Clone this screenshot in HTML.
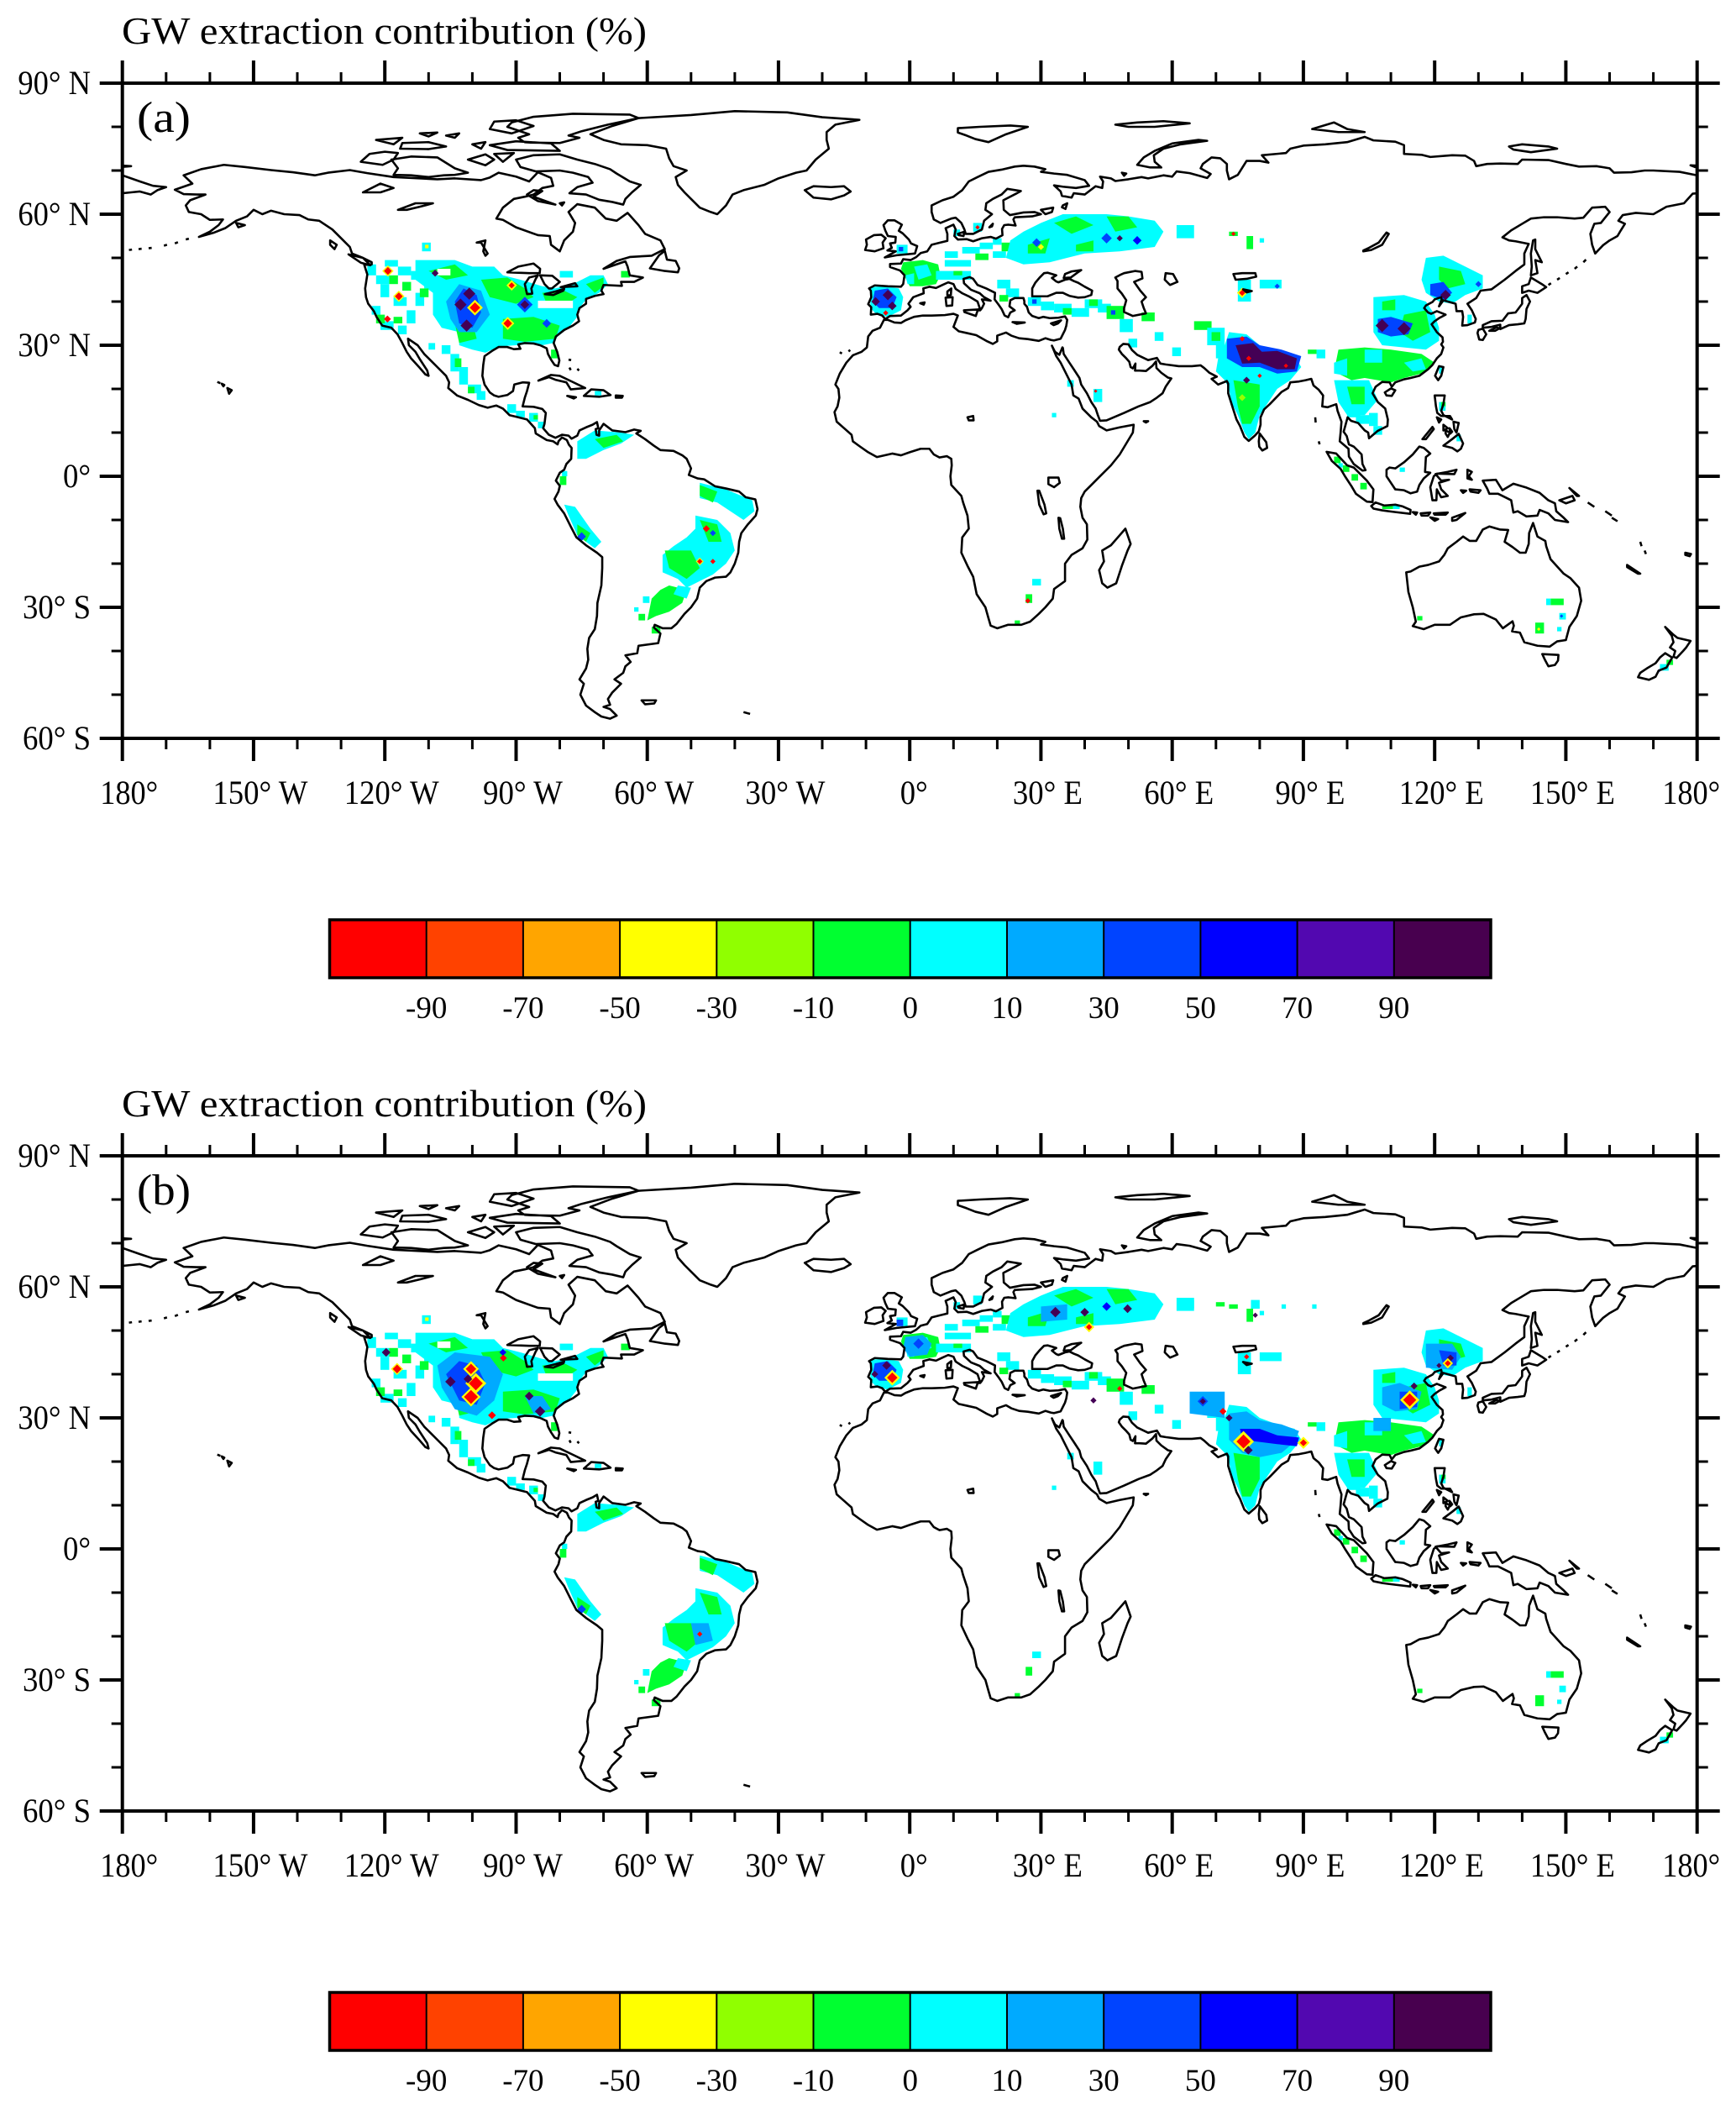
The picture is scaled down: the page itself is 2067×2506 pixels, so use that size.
<!DOCTYPE html>
<html><head><meta charset="utf-8"><style>html,body{margin:0;padding:0;background:#fff}svg{display:block}text{font-family:"Liberation Serif",serif;fill:#000}</style></head>
<body>
<svg width="2067" height="2506" viewBox="0 0 2067 2506" xmlns="http://www.w3.org/2000/svg">
<defs>
<clipPath id="clipA"><rect x="145.7" y="99" width="1875" height="780"/></clipPath>

<path id="coast" fill="none" stroke="#000" stroke-width="0.5" stroke-linejoin="round" d="
M-168,65.6 -164,67 -166,68.9 -162,70.3 -156.8,71.3 -152,70.8 -146,70.1 -141,69.6 -136,68.9 -133,69.5 -128,70.1 -124,69.4 -118,68.5 -114,68.3 -108,68 -104,68.2 -98,67.8 -96,68.4 -94,69.5 -90,68.6 -87,67.5 -85,69.6 -82,68.3 -81.5,66.5 -84,66 -86,64.5 -88,64 -90.5,63.5 -93,61.5 -94.5,59 -93,58.7 -90,57 -85,55.2 -82.3,55 -82,53 -80,51.5 -79,54 -77,56 -76.5,58 -78,60.5 -76,62.3 -72,61.5 -69.5,59 -67,58.5 -64.5,60.3 -62,57.5 -60.5,55.5 -57,54 -56,52 -59,50.5 -64,50.2 -67,49.3 -70,47.5 -65,49.2 -64.5,48 -64,46 -61,45.5 -63,44.5 -66,44.5 -65.8,43.6 -70,43.8 -70.5,42.5 -70,41.7 -72,41.3 -74,40.6 -74,39.5 -75.5,38.5 -76,37 -75.6,35.5 -77,34.5 -79,33.5 -80.9,32 -81.4,30.5 -80.6,28.5 -80.1,26.5 -80.4,25.2 -81.2,25.5 -82,26.7 -82.7,28 -83,29.3 -84.5,30 -86,30.4 -88,30.5 -89.5,30.2 -89,29.2 -90.5,29.1 -92,29.6 -94,29.6 -95.5,28.7 -97.2,27.5 -97.5,25.5 -97.7,23 -97.2,21 -96,19.2 -95,18.5 -94,18.2 -92,18.6 -90.7,19.5 -90.4,21 -88.5,21.5 -87,21.4 -87.5,19.5 -88,18 -88.5,16 -86,15.9 -84,15.4 -83.2,14.5 -83.5,12 -83.8,11 -82.5,9.5 -81,8.8 -79.5,9.5 -78,9.3 -77.3,8.6 -76,9.3 -75.5,10.5 -74,11.2 -72.5,11.8 -71.5,12.4 -71.2,11 -71.8,10.8 -71.6,9.5 -71,9.3 -71,10.5 -70,12 -68,10.5 -65,10.1 -63,10.7 -61.5,10.4 -62.5,9.8 -60.5,8.5 -58.5,7 -57,6 -54,5.8 -52,4.8 -51,4 -50,1.8 -50.5,0.3 -48.5,-0.5 -47,-0.7 -44.5,-2.3 -42,-2.8 -39,-3.5 -37.5,-4.8 -35.3,-5.3 -34.8,-7.5 -35.2,-9 -37,-11 -38.5,-13 -39,-15 -39.2,-17.5 -40,-20 -41,-22 -42,-23 -44.5,-23.2 -46.5,-24 -48,-25.5 -48.6,-28 -50,-30 -51.5,-31.5 -53.3,-33.8 -54.5,-34.8 -56.5,-34.8 -58.3,-34 -58.5,-34.6 -57,-36 -57.5,-38.2 -62,-38.8 -62.3,-40.5 -65,-41 -63.8,-42.5 -65,-43.5 -65.5,-45 -67.5,-46.5 -66,-47.5 -68,-49.5 -69,-51 -68.5,-52.3 -70,-52.8 -68.5,-53.3 -67,-54.8 -68.5,-55.5 -70.5,-55 -72,-54 -74,-52.5 -75.3,-50 -74.5,-47.5 -75.5,-46.5 -74,-44 -73.5,-42 -73.7,-39.5 -73.3,-37 -72,-35 -71.5,-32 -71.4,-29 -70.5,-25 -70.3,-21 -70.3,-18.5 -71.5,-17.5 -74,-15.8 -76.2,-14 -77.5,-11.5 -79,-8.5 -80.5,-6.5 -81.2,-5.2 -80.3,-3.5 -80,-2.2 -80.9,-1 -80,0.8 -79,1.5 -78.5,2.8 -77.4,4 -77.3,6.5 -77.9,7.2 -78.4,8.3 -79.5,8.9 -80.3,8 -80.5,7.3 -81.5,8 -83,8.3 -85.5,9.8 -85.7,11 -87.5,13 -89.5,13.5 -91.5,14 -93,15.5 -94.5,16.2 -96.5,15.7 -98.5,16.3 -101,17.5 -103.5,18.5 -105.5,20.2 -105.3,21.5 -106,23 -108,25 -109.5,26.5 -111,28 -112.5,30 -114.7,31.5 -114.5,30 -113,28.5 -112,26.8 -110.3,24.2 -110,23 -110.7,23.3 -112,24.8 -114,27 -115,28.5 -116,30.5 -117.1,32.5 -118.5,34 -120.6,34.5 -121.9,36.5 -122.5,37.8 -123.8,39.5 -124.3,41 -124.5,43 -124,46.2 -124.7,48.4 -123,48.5 -123,49 -125,50 -127.5,51 -128,52.5 -130,54.5 -132,56.5 -135,58.5 -137.5,58.8 -139.5,59.8 -143,60 -146,60.8 -148,60 -150,61 -151.5,59.5 -154,58.5 -156.5,56.8 -159,55.8 -162.5,54.8 -160,56 -158,57.5 -157,58.8 -160,58.7 -162,60 -164.8,60.5 -165.5,62 -164.5,63.2 -161,64.5 -163,64.5 -166,64.6 Z
M-73,78.3 -68,80.2 -62,82 -50,82.7 -40,83.6 -28,83.3 -20,82.2 -11.5,81.6 -17,80.5 -19,78.8 -19,77 -18.5,75 -21.5,72.5 -23.6,70 -26,69.5 -30,68.2 -33.3,66.7 -38,65.5 -40.5,64.5 -42,62 -44,60 -45.5,60.5 -48,61.5 -50,63.5 -51.5,65 -53,66.7 -53.5,68.5 -51,70 -54,71 -55,72.8 -55.7,75 -60,75.8 -66,76 -70,77 Z
M-61.5,66.7 -63.5,65 -65,63.5 -65.5,62.2 -68,62.8 -71,63.3 -74,64.5 -77.8,64.8 -76,66.2 -72.5,67.2 -73.5,68.5 -77,69.5 -80,70 -85.5,69.8 -89,70.8 -90,72.5 -86,73.5 -80,73.7 -76,72.5 -72,71.5 -68.5,70.3 -67,69.3 -64,67.5 Z
M-118,69 -117,70.5 -118.5,72.5 -114,73.2 -108,73 -104,70.5 -101,69.5 -104,69 -106.5,68.9 -110,68.5 -114,68.9 Z
M-125.5,72 -123.5,73.8 -120,74.3 -117,74 -118,72.5 -120.5,71.3 Z
M-91,81 -86,82.3 -77,83 -64,82.8 -62,82 -69,80.5 -75,79 -78,78 -75.5,77.5 -80,76.3 -88,76.4 -89.5,77.5 -87,78.3 -92,80 Z
M-95,81.2 -90,81.5 -86,80.2 -91,78.5 -96,79.5 Z
M-80,74.5 -92,74.7 -96,75.8 -90,76.7 -82,76.2 Z
M-116,76.3 -110,76.5 -106,75.5 -110,74.9 -116.5,75 Z
M-101,72.5 -97,73.7 -95,72.5 -97,71.2 Z
M-95,73.8 -90.5,74 -93,72 Z
M-100,76 -97,76.5 -98,75 Z
M-122,77 -116,77.5 -118,76 Z
M-106,78 -103,78.5 -104,77.5 Z
M-112,78.5 -108,78.7 -110,77.8 Z
M-86,64 -81,62.2 -85,63 -87.5,64.5 -86,65.5 -84,65.3 Z
M-80,62.5 -79,62.7 -79.5,62 Z
M-59.4,47.6 -56,47 -53,46.7 -52.7,47.6 -53.5,49.3 -55.5,49.6 -56,51.6 -57.3,50.6 Z
M-128.3,50.8 -125,50 -123.3,48.3 -125.5,48.9 Z
M-132.5,54 -131,53 -131.5,52 -132.5,53 Z
M-154,58 -152,57.5 -153.5,57 Z
M-84.9,21.9 -82,23.2 -80,23 -77.5,21.8 -74.2,20.2 -77.5,19.9 -78.5,21.5 -81,22.1 -82.5,22.7 Z
M-74.5,18.4 -72.8,19.9 -70,19.7 -68.4,18.6 -71,18.2 Z
M-78.3,18.4 -76.3,18.1 -76.8,17.8 Z
M-67.2,18.5 -65.6,18.4 -65.8,18 -67.2,18 Z
M-156,20.2 -155,19.7 -155.6,18.9 Z M-157.3,21.2 -156.7,20.9 -156.9,20.6 Z M-158.3,21.6 -157.6,21.3
M-178.5,51.8 -177.8,51.9 M-176.3,52 -175.6,52.1 M-174,52.2 -173.3,52.3 M-170.5,52.8 -169.8,53 M-168,53.3 -167.3,53.6 M-165.5,54.2 -164.8,54.4
M-78,26.7 -77.4,26.6 M-77.8,24.9 -77.5,24.3 M-76,24.6 -75.6,24.2
M-92,46.7 -89.5,48 -86,48.7 -84.5,47.5 -84.6,46.5 -87,46.5 Z
M-87.5,41.7 -88,44 -87,45.5 -85,46 -85.5,45.2 -86.5,43 -86.3,41.8 Z
M-84.5,46 -81.7,45.9 -80,44.5 -81.8,43 -82.5,43 -83.5,44 Z
M-83.4,41.7 -81,42.3 -79,42.9 -79.2,42.5 -81.5,41.5 Z
M-79.8,43.3 -76.5,44.2 -76,43.5 -78,43.4 Z
M-99,53.5 -97,54 -97.5,51.5 -97,50.5 -96.5,51 -98,53.5 Z
M-117,61 -113,62.5 -109,62.5 -112,61.7 -115,61 Z
M-125,65 -121,67 -118,66 -121,65 Z
M-24,65.5 -22,66.4 -18,66.2 -15,66.4 -13.5,65.2 -15,64.3 -18,63.4 -22,63.8 Z
M-61.3,-51.3 -58,-51.3 -58.4,-52 -60.5,-52.2 Z M-38,-54 -36.5,-54.4
M-5.9,35.8 -6.8,34 -8.5,33.3 -9.5,32 -9.8,29.5 -11,28.5 -13,27.7 -14.5,26 -16,23.5 -17,21 -16.3,20 -16.1,18 -16.5,16 -17.2,14.7 -16.7,12.5 -15,11 -13.3,9.5 -13,8 -11.5,6.9 -9.5,5.5 -7.5,4.4 -4,5.2 -2,4.8 0,5.5 2.5,6.3 4.5,6.3 5.5,5 6.8,4.3 8.5,4.6 9.5,4 9.6,2.5 9.3,0 9.5,-2 11.8,-4.5 12.2,-6 13.2,-9 13.5,-12 12,-14 11.8,-17.5 13.2,-20.5 14.5,-23 15.3,-27 17.3,-30 18,-32.5 18.5,-34.2 20,-34.8 22.5,-34 25.5,-34 27.5,-33.3 29.5,-31.5 31,-30 32.7,-28 33,-25.8 35.5,-24 35.5,-22.5 35.5,-20 37,-18 39.5,-16.5 40.6,-14.5 40.5,-11 39.5,-9.5 39,-7 39.2,-5 40,-3.5 41.5,-2 43,-0.5 46,2.5 48,5 49.5,7.5 51,10 51.2,11.8 48,11.2 45,10.5 43.3,11.5 42.8,12.5 41.5,13.5 39.5,15.5 38.6,17.8 37.4,18.5 37,21 35.5,24 34.5,26 33.5,27.5 32.5,29.9 33.2,28.5 34.2,27.8 34.9,29.5 35,29.4 35.2,28 36.5,26 37.5,24.5 38.8,22.5 39.2,21 40.5,19 41.5,17 42.5,15.5 43,14 43.5,12.7 45,12.8 49,14.5 52.3,16 55,17 56.5,18 57.8,19 58.5,20.5 59.8,22.4 59,22.6 57.5,23.7 56.4,24.8 56.3,26.3 55.5,25.3 54,24.1 52.5,24.2 51.5,24.2 51.6,25.8 51,24.7 50.5,25 50.2,26.2 49.5,27 48.5,28 47.8,29 48,29.6 48.8,30.3 50,30.2 50.8,28.9 52,27.8 54.5,26.6 56.5,27.1 57.3,25.8 58.5,25.6 61.5,25.2 64.5,25.2 66.5,25.4 67.3,24.8 68.5,23.7 70.2,22.8 69,22.3 70.5,21 72.5,21.8 72.8,21.2 72.8,19 73.9,15.5 74.7,13 75.5,11.5 76.5,9 77.5,8.1 78.9,9.3 79.8,10.3 80.2,11.8 80.2,13.5 81,15.3 82.3,16.5 85,19.3 86.5,20.2 87,21.5 89,21.7 90.5,22 91.8,22.3 92.3,20.8 93.5,19.8 94.5,18.5 94.3,16 95.5,15.8 97.5,16.5 97.8,15 98.7,12.5 98.5,10 98.3,8 100.3,6.3 100.4,4.5 101.5,2.8 103.5,1.3 104.2,1.4 103.5,2.8 103.3,5 101.5,6.8 100.4,7.3 99.9,9.2 99.2,10.2 100.1,13.5 100.9,12.7 102.5,12.2 104,10.5 104.8,10 105,8.7 107,10.4 109.2,11.5 109.3,13 108.7,15.5 107,17 105.8,19 106.5,20.5 108,21.6 109.7,21.5 110.2,20.5 111,21.5 113,22.2 114.5,22.5 116.5,23 118.5,24.5 119.5,25.5 120.5,27 121.5,28 122,29.5 121.5,30.2 121.9,30.8 121.8,31.8 120.5,33 119.3,34.8 120,35.5 121,36.2 122.5,37 120.5,37.8 119.2,37.2 118.5,37.5 117.6,38.5 118,39.1 119.5,39.9 120,40.5 121.5,41 121.6,40.5 121,38.9 122,40.3 124.8,39.5 125,37.8 126.3,37.8 126.5,36.5 126.3,34.5 127.5,34.6 129.2,35.2 129.4,36 128.5,38 127.5,39.5 129.5,40.8 130.5,42.5 133,42.8 136,45 138.5,47 140.5,48.5 140.5,51 141.5,53.2 138.5,53.8 137,54 135.5,54.7 137.5,56.3 140,57.8 142,59 145,59.3 148,59.3 152,59 154,59.2 156,61.5 159,61.7 160,60.5 158,58 156.5,57.8 155.6,55.5 156,53 156.7,51 158.5,52.9 160,54 161.8,55 162.5,56.2 163.5,57.8 162,58.5 163,59.8 166,60.3 170,60 173,61.7 177,62.5 179,64.7 182,65 184,65.2 186.5,64.5 188,65.5 190,66.2 187,66.5 184,67.5 180,68.9 176,69.7 170,70 168,70 165,69.6 161,69.5 160,70.5 157,71 153,70.9 150,71.5 146,72.4 140,72.5 139,71.5 135,71.6 132,71.5 129.5,71 129,72.2 127,73.4 124,73.5 119,73.1 117,73.6 113,73.8 113,75.8 111,76.6 106,76.9 104,77.7 100,76.5 95,76 90,75.7 87,75 86,74 80.5,73.5 82,71.8 80,72.2 77,72.2 75,69 73,68 72.5,70 72.5,71.5 71,72.8 69,73 67,71.5 66.5,70.5 68.8,69.2 68,68.3 64,69.4 61,69.8 60,68.6 58,68.9 54.5,68.2 53,68.5 50,68 47,67.6 46,68.2 43.5,68.6 44.2,67.5 44,66 42.5,66.4 40,64.5 37.5,64.8 37,63.8 34.8,64.2 34.5,65.2 33,66.6 35,66.3 38,66 41,66.5 40,67.8 36,69 33,69.3 30,69.7 31,70.3 28.5,70.9 26,71.1 24,70.9 21,70.2 18,69.7 15.5,68.5 13.5,67.5 12,65.5 10,64 7.5,63.2 5,62 5,60.5 5.5,58.8 7,58 9.5,59 10.5,59.2 11.8,58 12.5,56.5 12.8,55.5 14.5,55.5 16.5,56.5 17,58.5 18.8,60 17.3,61 17.5,62.5 19,63.5 21,64.5 22.3,65.8 25.4,65.3 24.5,64.8 21.4,63.2 21.5,61 22.9,59.8 26,60.4 28.5,60.5 30,60 28,59.5 24,59.3 23.7,58.8 24.2,57.4 22.6,57.6 21.6,57.5 21.1,56.6 21.2,55.2 19.7,54.4 18.5,54.8 16.5,54.5 14.5,53.8 13,54.3 11,54.2 10.2,55 10.5,56.5 10,57.6 8.2,56.8 8.6,55.5 8.6,53.9 7,53.5 5,53 4,51.5 2.5,51.1 1.5,50.2 0.2,49.5 -1.5,49.7 -2,48.7 -4.5,48.6 -4.5,47.9 -2.2,47.1 -1.2,46 -1.5,44 -2,43.4 -5,43.5 -8,43.7 -9.3,43 -8.9,42.5 -8.8,41 -9.5,39.4 -8.8,38.7 -8.9,37 -7.4,37.2 -6.3,36.8 -5.6,36 -4.5,36.7 -2,36.8 -0.5,38 0.2,38.8 -0.3,39.5 0.8,41 3.2,41.9 3.1,43 4.5,43.4 6,43.1 7.5,43.8 8.8,44.4 10,44 10.5,42.9 12,41.9 13.5,41.2 15.5,40 16,38.5 15.7,38 16.1,38 16.5,38.5 17,39.5 16.5,40.5 18.5,40.2 17,41 16,41.9 14,42.7 12.4,44.2 12.3,45.2 13.7,45.6 14.5,45.2 15.5,43.8 17.5,43 19.5,42 19.4,40.5 20.3,39.3 21,38.3 21.7,36.8 22.5,36.4 23,37.5 24,38 22.8,38.9 23,40.3 24,40.8 26,40.8 26.2,40.1 26.2,39.5 26.8,38.8 27.2,37.5 28,36.7 29.5,36.2 30.5,36.5 32,36.2 34,36.3 35.5,36.6 36,35.8 35.8,34.5 35.5,33.5 35,32.5 34.5,31.5 33,31.1 32.3,31.2 31,31.6 29.5,31 27,31.4 25,31.6 23.2,32.2 22,32.9 20,32.2 20,30.9 19,30.3 17.5,31 15.2,32.3 13,32.8 11.2,33.2 10,34.2 10.5,35.5 11,36.8 10,37.2 8,36.9 5,36.8 3,36.8 1,36.5 -1,35.7 -2,35.1 -3.5,35.2 -5,35.8 Z
M-5.7,50.1 -3,50.6 1.2,51 1.7,52.7 0.3,53.3 -0.2,54.2 -1.6,55.6 -2.5,56.2 -1.8,57.6 -3.5,58.6 -5,58.6 -6,57.5 -5.6,56.3 -5,55 -3.2,54.8 -3.3,53.5 -4.5,53.3 -4.1,52.3 -5.1,51.7 -3.2,51.5 Z
M-6,52.2 -6.2,53.5 -5.5,54.5 -6.5,55.3 -8.2,55.2 -10,54.2 -9.8,53 -10.2,51.8 -8,51.5 Z
M12.4,38 15.6,38.2 15.1,36.7 12.5,37.6 Z
M8.4,39 9.7,39.1 9.8,41 8.2,40.9 Z
M8.6,41.4 9.4,41.5 9.5,43 8.6,42.3 Z
M23.5,35.3 26.3,35.2 24.5,34.9 Z
M32.3,35 34.6,35.7 33.9,35 32.9,34.6 Z
M2.4,39.6 3.4,39.8 3.2,39.3 Z
M11,55.5 12.5,56 12.3,55 11.2,55.2 Z
M18.2,57 19,57.8 18.8,57.2 Z
M11,79.7 16,80 23,80.3 27,80 22,78.3 18,76.5 15,77.2 13,78 11,78.7 Z
M52,71.3 55,70.7 57.5,70.7 56,72 55.8,73.5 58,75 62,76 68,76.8 66,77 60,76.2 56,74.5 53.5,73 Z
M47,80.5 52,81 58,81.3 64,80.8 56,80 50,80 Z
M92,79.5 97,81 100,79.5 104,78.8 98,78.8 Z
M137,75.5 140,76 146,75.5 148,75 142,74.2 138,74.8 Z
M178.5,71.2 182,71 179.5,70.8 Z
M48.5,69.5 49.5,69.3 49,68.8 Z
M28,41.2 29,41.2 31.5,41.2 33.5,42 35,42 36.5,41.3 38.5,40.9 40,41 41.5,41.5 41.7,42.5 40,43.4 38.5,44.3 37.5,44.7 36.5,45.2 35.5,45 34,44.4 33.5,44.6 32.5,45.4 33.5,46 31.5,46.6 30.7,46.5 29.7,45.5 28.7,44.3 28,43 Z
M35.2,45.4 36.8,45.5 38.3,46.6 39.2,47.2 37,46.9 35.5,46.3 Z
M49,46.5 51.5,47 53,46.8 53.2,45.3 51.3,44.5 52.7,42.5 54,41 53,40 53.5,38.5 54,37.3 51,36.7 49,37.6 49,38.5 49.5,40.3 48.5,41.8 47.5,43 47.5,44.7 47,45.5 48.3,46.2 Z
M58.5,46.5 60.2,46.3 61.2,44.5 59.5,43.8 58.3,45 Z
M103.7,51.5 105.5,51.8 108,53 109.5,55.5 109,55.8 107.2,53.5 105,52.3 103.7,51.7 Z
M74,46.3 76,46.5 79,46.5 79.2,45.7 77,45.2 74.5,45 Z
M76.2,42.8 78.2,42.4 77,42.1 Z
M30,61 32.8,61.5 32.5,60.5 31,60 Z
M35,62 36,62.5 35.6,61.2 34.8,61.6 Z
M31.7,-0.3 34,-0.3 34.3,-1.5 33,-2.5 31.7,-1.8 Z
M29.2,-3.3 29.6,-3.3 30.8,-6.5 31.2,-8.5 30.6,-8.7 29.6,-6.5 Z
M34,-9.5 34.4,-9.6 35,-12 35.3,-14.3 34.8,-14.3 34.2,-12 Z
M13.2,13.5 14.5,13.8 14.6,12.8 13.5,12.8 Z
M49.3,-12 50.5,-15.5 49.8,-17 48.5,-20.5 47.2,-24.5 45.2,-25.5 44,-24.5 43.3,-21.5 44.4,-19.5 44,-17 46,-15.8 48,-13.5 Z
M79.8,8 80,9.8 81.5,7.8 81.7,6.5 80.6,5.9 79.9,6.8 Z
M142,46 143.5,46.5 143,49.5 144.5,49 143,52 143,54.2 142.5,54 142,51 142.2,48 Z
M140,42 141.5,42.5 143.5,42 145.5,43.3 144.5,44 142,45.5 141.5,44 140,43.5 Z
M141,41.5 141.8,40 141,38.3 140.8,36 140.5,35 139,34.8 137,34.6 135,33.7 135,34.7 133,34.2 131,34 131,34.6 133,35.5 135.5,35.6 136.8,37.3 138.5,37.5 140,39.5 140,40.8 Z
M130,33.5 131,33.8 131.8,32.5 131,31.2 130.2,31.3 129.8,32.8 Z
M132.5,33.3 134.3,34.2 134.7,33.8 133.8,33.3 Z
M120.1,23 121,25.2 122,25 121.5,23 120.8,22 Z
M108.6,19.2 110,20.1 111,19.7 110.2,18.4 109,18.5 Z
M120,18.5 122.3,18.5 122,16.5 121.5,15 122,14 124,13 123.5,13.8 121.5,13.8 120.6,14.5 120.3,16 Z
M122,7 124,8.5 125.5,9.7 126.5,7.5 126,6.3 125.2,5.7 124,6.5 Z
M124.3,12.5 125.5,12.2 125,10 124.5,10.8 Z M122,11.8 123,11 122,10.5 Z M122.5,10.5 123.5,10 123,9 122.5,9.8 Z M120.5,13.5 121.5,13 121,12.3 Z M117.2,8.5 119.5,11.3 119.8,10.8 118,8.5 Z M123.4,11 124,10.2 123.6,9.8 Z
M109,1.5 109.7,2 111,1.8 113,3.2 115,5 116.5,6.8 117.5,6.5 119,5.2 118,4.4 117.8,1 119,0.8 117.5,-0.5 116.5,-2 116,-3.5 114.5,-3.9 113,-3.2 111,-3 110,-1.5 109,0 Z
M95.3,5.6 97.5,5.2 100,2.5 101.5,2 103.5,0 104.5,-1 106,-3 105.8,-5.9 104.5,-5.8 102,-4 101,-2.3 99.5,0 98.5,1.7 96.5,3.5 Z
M105.5,-6.8 106.5,-6 108.5,-6.7 111,-6.5 112.7,-6.9 114.5,-7.7 114.4,-8.6 111,-8.2 108,-7.8 106,-7.4 Z
M115,-8.2 116,-8.3 115.7,-8.8 Z M116.8,-8.5 119,-8.3 118.5,-9 117,-9 Z M119.8,-8.5 123,-8.3 122.5,-8.8 120,-8.8 Z M124,-9.5 127,-8.4 125,-10 124,-10.2 Z M119,-9.4 120.8,-9.8 120,-10.2 Z
M119.5,-5.5 120.4,-5.5 120.5,-3 121.5,-4.8 123,-4.5 121.5,-3 121,-1.5 123.3,-0.8 121.5,-1 120.2,0.5 123,1 125,1.5 124.5,0.5 120.5,0.6 119.8,0 119,-2.5 Z
M127.5,1.5 128.5,1 127.8,0 128.5,-0.8 127.5,-0.5 Z
M128,-3 130.5,-3.2 130,-3.8 128.2,-3.5 Z M126,-3.2 127.2,-3.3 126.5,-3.8 Z
M131,-1 134,-0.8 135.5,-3.2 138,-1.7 141,-2.6 144,-3.8 146,-5.5 147.5,-6.2 147.8,-8 149.5,-9.5 150.5,-10.5 147.5,-10 146,-8.5 144,-7.7 143.5,-9 141,-9.2 139,-8 138,-8.3 137.5,-5.5 134.5,-4 132.5,-4 132,-2.8 Z
M148.5,-5.5 151.5,-4.5 152,-5.5 150,-6.2 Z M150.8,-2.7 153,-4.5 152.5,-4.5 Z
M155,-6 156.5,-7 M159,-8 160.5,-9 M160.5,-9.5 161.8,-10.3 M167,-15 167.3,-16 M168,-17 168.3,-17.8
M164,-20.3 167,-22.3 166.5,-22.3 164,-20.8 Z
M177.3,-17.5 178.6,-17.8 178.3,-18.3 177.3,-18 Z
M113.5,-22 114,-26.5 115,-30 115.7,-33.3 115,-34.3 117.5,-35 120,-34 123.5,-34 126,-32.3 129,-31.6 131.2,-31.5 134,-32.8 135.6,-34.8 136,-34.5 137.8,-33.2 138.1,-34.2 137.7,-35.5 139.5,-35.8 140.5,-38 143.5,-38.8 146.3,-39 148,-37.8 150,-37.5 150.8,-34.5 152.5,-32 153.5,-28.5 153,-25.5 151,-23.3 149.5,-22.3 146.5,-19 145.5,-16 145.3,-14.8 143.5,-13.8 142.5,-10.7 141.6,-13 141.5,-15.5 140.8,-17.5 139.5,-17.5 137.8,-16.2 136,-15 136.8,-12.3 135,-12.2 132.5,-11.5 131,-12.2 129.5,-14.8 128,-14.8 126.5,-13.8 125,-15 123,-16.5 122.2,-18 121,-19.5 118.5,-20.3 116.5,-20.7 114.5,-21.8 Z
M144.6,-40.7 148.3,-40.9 148.2,-42.2 147.5,-43.2 146,-43.5 145.2,-42 Z
M172.7,-34.5 174.5,-36.2 175.5,-37 178.5,-37.7 177.5,-39.2 176.8,-40 175.3,-41.6 174.6,-41.3 175,-40 173.8,-39.2 174.6,-38 174.2,-36.5 Z
M172.7,-40.5 174.3,-41.5 173,-43.8 171.2,-44.5 170.5,-45.9 169,-46.6 166.5,-46 167,-45 168.5,-44 170.5,-42.8 171.5,-41.5 Z
M146,43.8 146.6,44.2 M148,45 148.6,45.4 M150,46.3 150.6,46.7 M152,47.5 152.6,48 M154,49 154.6,49.6
M92.7,13.5 92.8,12.3 M93.5,8 93.7,7.3
M-16,28.4 -15.5,28.1 M-14,28.6 -13.6,28.9
M53.5,12.6 54.5,12.6 54,12.3 Z
"/>

<g id="axes">
<rect x="145.7" y="99" width="1875" height="780" fill="none" stroke="#000" stroke-width="4"/>
<path fill="none" stroke="#000" stroke-width="4" d="M145.7,99V72M301.9,99V72M458.2,99V72M614.5,99V72M770.7,99V72M926.9,99V72M1083.2,99V72M1239.4,99V72M1395.7,99V72M1551.9,99V72M1708.2,99V72M1864.4,99V72M2020.7,99V72
M145.7,879V906M301.9,879V906M458.2,879V906M614.5,879V906M770.7,879V906M926.9,879V906M1083.2,879V906M1239.4,879V906M1395.7,879V906M1551.9,879V906M1708.2,879V906M1864.4,879V906M2020.7,879V906
M145.7,99H118.7M145.7,255H118.7M145.7,411H118.7M145.7,567H118.7M145.7,723H118.7M145.7,879H118.7
M2020.7,99H2047.7M2020.7,255H2047.7M2020.7,411H2047.7M2020.7,567H2047.7M2020.7,723H2047.7M2020.7,879H2047.7"/>
<path fill="none" stroke="#000" stroke-width="3" d="M197.8,99V86M249.9,99V86M354,99V86M406.1,99V86M510.3,99V86M562.4,99V86M666.5,99V86M718.6,99V86M822.8,99V86M874.9,99V86M979,99V86M1031.1,99V86M1135.3,99V86M1187.4,99V86M1291.5,99V86M1343.6,99V86M1447.8,99V86M1499.9,99V86M1604,99V86M1656.1,99V86M1760.3,99V86M1812.4,99V86M1916.5,99V86M1968.6,99V86
M197.8,879V892M249.9,879V892M354,879V892M406.1,879V892M510.3,879V892M562.4,879V892M666.5,879V892M718.6,879V892M822.8,879V892M874.9,879V892M979,879V892M1031.1,879V892M1135.3,879V892M1187.4,879V892M1291.5,879V892M1343.6,879V892M1447.8,879V892M1499.9,879V892M1604,879V892M1656.1,879V892M1760.3,879V892M1812.4,879V892M1916.5,879V892M1968.6,879V892
M145.7,151H132.7M145.7,203H132.7M145.7,307H132.7M145.7,359H132.7M145.7,463H132.7M145.7,515H132.7M145.7,619H132.7M145.7,671H132.7M145.7,775H132.7M145.7,827H132.7
M2020.7,151H2033.7M2020.7,203H2033.7M2020.7,307H2033.7M2020.7,359H2033.7M2020.7,463H2033.7M2020.7,515H2033.7M2020.7,619H2033.7M2020.7,671H2033.7M2020.7,775H2033.7M2020.7,827H2033.7"/>
</g>

<g id="cbar">
<rect x="392.5" y="1095" width="115.3" height="69" fill="#ff0000"/>
<rect x="507.7" y="1095" width="115.3" height="69" fill="#ff4200"/>
<rect x="622.9" y="1095" width="115.3" height="69" fill="#ffa500"/>
<rect x="738.1" y="1095" width="115.3" height="69" fill="#ffff00"/>
<rect x="853.3" y="1095" width="115.3" height="69" fill="#90ff00"/>
<rect x="968.5" y="1095" width="115.3" height="69" fill="#00ff30"/>
<rect x="1083.7" y="1095" width="115.3" height="69" fill="#00ffff"/>
<rect x="1199" y="1095" width="115.3" height="69" fill="#00aaff"/>
<rect x="1314.2" y="1095" width="115.3" height="69" fill="#0044ff"/>
<rect x="1429.4" y="1095" width="115.3" height="69" fill="#0000ff"/>
<rect x="1544.6" y="1095" width="115.3" height="69" fill="#5208b0"/>
<rect x="1659.8" y="1095" width="115.2" height="69" fill="#48004f"/>
<path fill="none" stroke="#000" stroke-width="2" d="M507.7,1095V1164M622.9,1095V1164M738.1,1095V1164M853.3,1095V1164M968.5,1095V1164M1083.7,1095V1164M1199,1095V1164M1314.2,1095V1164M1429.4,1095V1164M1544.6,1095V1164M1659.8,1095V1164"/>
<rect x="392.5" y="1095" width="1382.5" height="69" fill="none" stroke="#000" stroke-width="3.5"/>
</g>

<g id="baseNA">
<polygon fill="#0ff" points="-113,49.5 -104,49.5 -100,48 -95,48 -93,46 -89,45 -84,43.5 -81,43 -77,44 -73,46 -70,46 -69,44 -71,42 -74,40.5 -75.5,38.5 -76,36.5 -78,34 -80.5,32 -81.5,30.5 -84,30 -87,30.3 -90,30 -94,29.7 -97,28.3 -100,29 -103,30 -103,33 -107,34 -109,37 -109,42 -113,45"/>
<polygon fill="#00ff30" points="-98,45 -92,45.5 -88,43 -86,41 -90,39.5 -96,41"/>
<polygon fill="#00ff30" points="-93,36 -86,36.5 -80,34.5 -81,31.5 -88,30.8 -93,31.5"/>
<polygon fill="#00ff30" points="-84,42 -79,42.5 -76,41 -79,39 -83,39.5"/>
<polygon fill="#00ff30" points="-104,35 -100,35.5 -99,31.5 -103,30.5"/>
<polygon fill="#00ff30" points="-110,47 -104,48.5 -101,46 -106,45"/>
<polygon fill="#00ff30" points="-74,44 -70,45.5 -70,43.5 -72,42"/>
<rect fill="#fff" x="-85" y="38.5" width="8" height="1.7"/>
<rect fill="#fff" x="-108" y="46" width="3" height="1.5"/>
<rect fill="#0ff" x="-124" y="46" width="2" height="2.5"/><rect fill="#0ff" x="-122" y="44" width="3" height="2"/><rect fill="#0ff" x="-121" y="41" width="2" height="3"/><rect fill="#0ff" x="-118" y="39" width="3" height="2"/><rect fill="#0ff" x="-123" y="37" width="2" height="2"/><rect fill="#0ff" x="-121" y="33.5" width="3" height="2"/><rect fill="#0ff" x="-117" y="32.5" width="2" height="2"/><rect fill="#0ff" x="-115" y="35" width="2" height="3"/><rect fill="#0ff" x="-113" y="39" width="2" height="3"/><rect fill="#0ff" x="-114" y="45" width="3" height="2"/><rect fill="#0ff" x="-111" y="43" width="2" height="2"/><rect fill="#0ff" x="-117" y="46" width="3" height="2"/><rect fill="#0ff" x="-120" y="48" width="3" height="1.5"/>
<rect fill="#00ff30" x="-119" y="44" width="2" height="2"/><rect fill="#00ff30" x="-116" y="42.5" width="2" height="2"/><rect fill="#00ff30" x="-122" y="35" width="2" height="2"/><rect fill="#00ff30" x="-112" y="41" width="2" height="2"/><rect fill="#00ff30" x="-118" y="35" width="2" height="1.5"/>
<rect fill="#0ff" x="-111.5" y="51.5" width="2" height="2"/><rect fill="#ff0" x="-110.8" y="52.2" width="0.8" height="0.8"/><rect fill="#0ff" x="-80" y="45.5" width="3" height="1.5"/><rect fill="#00ff30" x="-66" y="45.5" width="2" height="1.5"/>
<rect fill="#0ff" x="-107" y="28" width="2" height="2"/><rect fill="#0ff" x="-105" y="24" width="2" height="4"/><rect fill="#0ff" x="-103" y="21" width="2" height="4"/><rect fill="#0ff" x="-101" y="19" width="3" height="2"/><rect fill="#0ff" x="-99" y="17.5" width="2" height="2"/><rect fill="#0ff" x="-110" y="29" width="1.5" height="1.5"/><rect fill="#00ff30" x="-104" y="25" width="1.5" height="2"/><rect fill="#00ff30" x="-101" y="19" width="1.5" height="1.5"/>
<rect fill="#0ff" x="-92" y="14.5" width="2" height="2"/><rect fill="#0ff" x="-90" y="13.5" width="2" height="1.5"/><rect fill="#0ff" x="-87" y="12.5" width="2" height="2"/><rect fill="#0ff" x="-85" y="11" width="1.5" height="1.5"/><rect fill="#00ff30" x="-86" y="13" width="1" height="1"/><rect fill="#0ff" x="-72" y="18.5" width="1.5" height="1"/><rect fill="#00ff30" x="-82" y="27" width="1.5" height="2"/>
</g>

<g id="baseSA">
<polygon fill="#0ff" points="-76,8 -72,10.5 -66,10 -63,9.5 -66,7.5 -70,6 -74,4 -76,4"/>
<polygon fill="#00ff30" points="-72,8.5 -67,9.5 -65.5,8 -70,6.5"/>
<rect fill="#00ff30" x="-80" y="-2" width="1.5" height="2"/><rect fill="#0ff" x="-79.5" y="0" width="1.2" height="1.2"/>
<polygon fill="#0ff" points="-79,-6.5 -76.5,-7 -73,-12 -70.5,-15 -72,-16.5 -76,-13.5 -78,-9"/>
<polygon fill="#00ff30" points="-76,-11 -73,-13 -74,-15 -76,-13.5"/>
<polygon fill="#0ff" points="-48,-1.5 -42,-3 -36,-5.5 -35.5,-8 -38,-10 -41,-8 -44,-6 -48,-5"/>
<polygon fill="#00ff30" points="-48,-2 -44,-3.5 -45,-6 -48,-4.5"/>
<polygon fill="#0ff" points="-49,-9 -44,-10 -41,-13 -40,-17 -42,-20 -45,-22.5 -48,-24 -51,-25.5 -53,-23.5 -56.5,-22 -56.5,-18 -54,-16 -51,-14 -49,-12"/>
<polygon fill="#00ff30" points="-56,-17 -50,-17 -48,-21 -51,-23.5 -55,-21"/>
<polygon fill="#00ff30" points="-48,-10 -44,-11 -43,-15 -46,-15"/>
<polygon fill="#00ff30" points="-55,-25 -51,-26 -52,-29 -55,-31 -58,-32 -60,-33 -59,-28 -57,-26"/>
<polygon fill="#0ff" points="-53,-25 -50,-25.5 -51,-28 -54,-27"/>
<rect fill="#0ff" x="-61" y="-29" width="1.5" height="1.5"/><rect fill="#00ff30" x="-62" y="-33" width="1.5" height="1.5"/><rect fill="#00ff30" x="-59" y="-36" width="2" height="1.5"/><rect fill="#0ff" x="-63" y="-31" width="1" height="1"/>
<rect fill="#0ff" x="28" y="-25" width="2" height="1.5"/><rect fill="#00ff30" x="26.5" y="-29" width="1.5" height="2"/><rect fill="#00ff30" x="24" y="-34" width="1.2" height="1"/><rect fill="#0ff" x="32.5" y="13.5" width="1" height="1"/>
</g>

<g id="baseEA">
<polygon fill="#0ff" points="-9,43.3 -6,43.5 -2.5,43 -1.5,41 -2,38 -5,36.5 -7.5,37 -9,38.5"/>
<polygon fill="#00ff30" points="-1.5,49 3,49.5 6.5,48.5 7,46 6,44 3,43.5 0,43.5 -1,45.5 -2,47.5"/>
<polygon fill="#0ff" points="1,48 4,48.5 5,46 2,45"/>
<polygon fill="#0ff" points="-1,46 1,46.5 1,44 -0.5,44"/>
<rect fill="#0ff" x="-3" y="51" width="2.5" height="2"/>
<rect fill="#0ff" x="6" y="45" width="8" height="2"/><rect fill="#0ff" x="8" y="48" width="6" height="1.5"/><rect fill="#00ff30" x="10" y="46" width="2" height="1"/>
<rect fill="#0ff" x="8" y="50" width="3" height="1.5"/><rect fill="#0ff" x="12" y="51" width="4" height="1.5"/><rect fill="#00ff30" x="15" y="49.5" width="3" height="1.5"/><rect fill="#0ff" x="19" y="50" width="3" height="1.5"/><rect fill="#00ff30" x="21" y="51.5" width="2" height="2"/>
<rect fill="#0ff" x="10" y="55" width="1.5" height="1.5"/><rect fill="#0ff" x="14.5" y="56" width="2" height="2"/>
<rect fill="#0ff" x="16" y="52" width="3" height="1.5"/><rect fill="#0ff" x="19" y="53" width="2" height="1.5"/>
<polygon fill="#0ff" points="22,50 23,54 26,56 30,58 35,60 45,60 50,59.5 56,58.5 58,56 56,52.5 48,51.5 40,51 32,49 26,48.5"/>
<polygon fill="#00ff30" points="33,58 38,59.5 42,57.5 37,55.5"/>
<polygon fill="#00ff30" points="45,59.5 50,59.5 52,57 47,56"/>
<polygon fill="#00ff30" points="27,53 32,54.5 31,51 27,51"/>
<polygon fill="#00ff30" points="38,53 42,54 42,51.5 38,51.5"/>
<rect fill="#0ff" x="61" y="54.5" width="4" height="3"/><rect fill="#00ff30" x="73" y="55" width="2" height="1"/><rect fill="#00ff30" x="77" y="52" width="1.5" height="3"/><rect fill="#0ff" x="80" y="53.5" width="1" height="1"/>
<rect fill="#0ff" x="20" y="43" width="3" height="2"/><rect fill="#0ff" x="22" y="41" width="3" height="2"/><rect fill="#0ff" x="27" y="39" width="3" height="2"/><rect fill="#0ff" x="30" y="38" width="3" height="2"/><rect fill="#0ff" x="33" y="37.5" width="4" height="2"/><rect fill="#0ff" x="37" y="36.5" width="4" height="2"/><rect fill="#0ff" x="40" y="38.5" width="4" height="2"/><rect fill="#0ff" x="43" y="37.5" width="3" height="2"/>
<rect fill="#00ff30" x="20.5" y="40" width="2" height="1.5"/><rect fill="#00ff30" x="35" y="37" width="2" height="1.5"/><rect fill="#00ff30" x="41" y="39" width="2" height="1.5"/>
<rect fill="#00ff30" x="45" y="36" width="4" height="3"/><rect fill="#0ff" x="48" y="33" width="3" height="3"/><rect fill="#00ff30" x="53" y="35.5" width="3" height="2"/><rect fill="#0ff" x="56" y="31" width="2" height="2"/><rect fill="#0ff" x="50" y="29.5" width="2" height="2"/><rect fill="#0ff" x="60" y="27.5" width="2" height="2"/>
<rect fill="#00ff30" x="65" y="33.5" width="4" height="2"/><rect fill="#0ff" x="68" y="30" width="4" height="4"/><rect fill="#00ff30" x="69" y="31" width="2" height="2"/><rect fill="#0ff" x="70" y="27" width="2" height="3"/>
<rect fill="#0ff" x="75" y="40" width="3" height="5"/><rect fill="#0ff" x="80" y="43" width="5" height="2"/>
<rect fill="#0ff" x="42" y="17" width="2" height="3"/><rect fill="#0ff" x="36" y="20.5" width="1.5" height="1.5"/>
<polygon fill="#0ff" points="73,33 77,32.5 80,30 84,28.5 88,27.5 89.5,25 87,22 84,20 82,17 80,14 79,10 77.5,8.5 76.5,10 75,14 73.5,17 73,20 72,22 70,24 70.5,27 72,30"/>
<polygon fill="#00ff30" points="74,22 80,21 80,16 78,12 76,12 75,16"/>
<polygon fill="#0ff" points="118,50 122,50.5 126,48.5 131,46 131,43 127,41.5 124,39.5 121,40 118,42 117,45"/>
<polygon fill="#00ff30" points="121,48 126,47 127,44 123,43 121,45"/>
<polygon fill="#0ff" points="106,41 113,41.5 118,40 120,37 121,34 121,31 118,29 113,29.5 108,30 106,33"/>
<polygon fill="#00ff30" points="113,37 118,38 119,33 115,31 112,33"/>
<polygon fill="#00ff30" points="108,40 111,40.5 111,38 108,38"/>
<polygon fill="#00ff30" points="98,29 104,29.5 110,29 117,28 120,26 117,23.5 113,22.5 110,21.5 107,22 104,22.5 101,22 97,24"/>
<polygon fill="#0ff" points="104,29 108,29 108,26 104,26"/>
<polygon fill="#0ff" points="113,26 117,27 118,24.5 115,24"/>
<polygon fill="#0ff" points="97,26 100,27 100,23 97,23.5"/>
<polygon fill="#0ff" points="97,22 105,22 107,17.5 104,14 100,14 98,17"/>
<polygon fill="#00ff30" points="100,20.5 104,20.5 104,16.5 101,16.5"/>
<rect fill="#0ff" x="93" y="27" width="2" height="2"/><rect fill="#00ff30" x="91" y="28" width="2" height="1"/>
<rect fill="#0ff" x="100" y="13.5" width="3" height="2"/><rect fill="#0ff" x="102" y="12" width="3" height="2"/><rect fill="#0ff" x="105" y="11.5" width="2" height="3"/><rect fill="#0ff" x="106" y="9.5" width="2" height="2"/>
<rect fill="#0ff" x="121" y="15" width="1.5" height="2"/><rect fill="#00ff30" x="121.5" y="16" width="1" height="1"/><rect fill="#0ff" x="125" y="8" width="1" height="1.5"/>
<rect fill="#00ff30" x="97" y="3" width="1.5" height="1.5"/><rect fill="#00ff30" x="99" y="1" width="1.5" height="1.5"/><rect fill="#00ff30" x="101" y="-1" width="1.5" height="1.5"/><rect fill="#00ff30" x="103" y="-3" width="1.5" height="1.5"/><rect fill="#0ff" x="98" y="2" width="1" height="1"/>
<rect fill="#00ff30" x="108" y="-7.5" width="2.5" height="1"/><rect fill="#0ff" x="110.5" y="-7.5" width="1.5" height="1"/><rect fill="#0ff" x="112" y="1" width="1.2" height="1"/>
<rect fill="#00ff30" x="146.5" y="-29.5" width="3" height="1.5"/><rect fill="#0ff" x="145.5" y="-29.5" width="1" height="1.5"/><rect fill="#00ff30" x="143" y="-36" width="2" height="2.5"/><rect fill="#0ff" x="148.5" y="-32.8" width="1.5" height="1.5"/><rect fill="#0ff" x="148" y="-35.5" width="1" height="1"/><rect fill="#00ff30" x="116" y="-33" width="1.2" height="1"/>
<rect fill="#0ff" x="171.5" y="-44.5" width="2" height="1.5"/><rect fill="#00ff30" x="173" y="-43.2" width="1.5" height="1.2"/>
<rect fill="#0ff" x="127.5" y="35" width="1" height="2"/><rect fill="#0ff" x="121" y="23.5" width="0.8" height="1.5"/>
</g>
</defs>

<rect width="2067" height="2506" fill="#fff"/>

<!-- ===== PANEL A ===== -->
<g clip-path="url(#clipA)">
<g transform="translate(1083.2,567) scale(5.2083,-5.2)">
<use href="#baseNA"/><use href="#baseSA"/><use href="#baseEA"/>
<polygon fill="#0af" points="-106,40 -103,44 -98,42.5 -96,37 -99,33 -103,33 -105,36"/>
<polygon fill="#04f" points="-104,40 -102,43 -99,41.5 -98,37.5 -100,34 -103,35"/>
<polygon fill="#405" points="-102.1,41.8 -100.7,43.2 -99.3,41.8 -100.7,40.4"/>
<polygon fill="#405" points="-104.1,39.3 -102.7,40.7 -101.3,39.3 -102.7,37.9"/>
<polygon fill="#405" points="-102.7,34.5 -101.3,35.9 -99.9,34.5 -101.3,33.1"/>
<polygon fill="#04f" points="-89.8,39.3 -88,41.1 -86.2,39.3 -88,37.5"/>
<polygon fill="#405" points="-89,39.3 -88,40.3 -87,39.3 -88,38.3"/>
<polygon fill="#405" points="-109.3,46.5 -108.5,47.3 -107.7,46.5 -108.5,45.7"/>
<polygon fill="#ff0" points="-101.2,38.6 -99.4,40.4 -97.6,38.6 -99.4,36.8"/>
<polygon fill="#f00" points="-100.6,38.6 -99.4,39.8 -98.2,38.6 -99.4,37.4"/>
<polygon fill="#ff0" points="-93.4,35 -91.9,36.5 -90.4,35 -91.9,33.5"/>
<polygon fill="#f00" points="-92.9,35 -91.9,36 -90.9,35 -91.9,34"/>
<polygon fill="#ff0" points="-120.6,47 -119.3,48.3 -118,47 -119.3,45.7"/>
<polygon fill="#f00" points="-120.2,47 -119.3,47.9 -118.4,47 -119.3,46.1"/>
<polygon fill="#ff0" points="-118.1,41.2 -116.8,42.5 -115.5,41.2 -116.8,39.9"/>
<polygon fill="#f00" points="-117.7,41.2 -116.8,42.1 -115.9,41.2 -116.8,40.3"/>
<polygon fill="#f00" points="-120.2,36 -119.4,36.8 -118.6,36 -119.4,35.2"/>
<polygon fill="#ff0" points="-92.2,43.7 -91,44.9 -89.8,43.7 -91,42.5"/>
<polygon fill="#f00" points="-91.7,43.7 -91,44.4 -90.3,43.7 -91,43"/>
<polygon fill="#04f" points="-84,35 -83,36 -82,35 -83,34"/>
<polygon fill="#04f" points="-76,-13.8 -75,-12.8 -74,-13.8 -75,-14.8"/>
<polygon fill="#f00" points="-47.3,-12 -46.5,-11.2 -45.7,-12 -46.5,-12.8"/>
<polygon fill="#ff0" points="-48.9,-19.5 -48,-18.6 -47.1,-19.5 -48,-20.4"/>
<polygon fill="#f00" points="-48.6,-19.5 -48,-18.9 -47.4,-19.5 -48,-20.1"/>
<polygon fill="#04f" points="-45.7,-13 -45,-12.3 -44.3,-13 -45,-13.7"/>
<polygon fill="#f00" points="-45.6,-19.5 -45,-18.9 -44.4,-19.5 -45,-20.1"/>
<polygon fill="#f00" points="26.4,-28.5 27,-27.9 27.6,-28.5 27,-29.1"/>
<polygon fill="#04f" points="-8,42.5 -5,43 -3,41 -4,38.5 -7,38.5 -8.5,40"/>
<polygon fill="#405" points="-6.2,41.5 -5,42.7 -3.8,41.5 -5,40.3"/>
<polygon fill="#405" points="-8.8,40 -7.8,41 -6.8,40 -7.8,39"/>
<polygon fill="#405" points="-5,39 -4,40 -3,39 -4,38"/>
<polygon fill="#f00" points="-6.1,37.4 -5.5,38 -4.9,37.4 -5.5,36.8"/>
<rect fill="#04f" x="-2.5" y="51.5" width="1" height="1"/>
<polygon fill="#f00" points="15,57 15.5,57.5 16,57 15.5,56.5"/>
<polygon fill="#04f" points="28,53.5 29,54.5 30,53.5 29,52.5"/>
<polygon fill="#04f" points="43.8,54.5 45,55.7 46.2,54.5 45,53.3"/>
<polygon fill="#00f" points="51,54 52,55 53,54 52,53"/>
<polygon fill="#405" points="47.3,54.5 48,55.2 48.7,54.5 48,53.8"/>
<polygon fill="#ff0" points="29.3,52.5 30,53.2 30.7,52.5 30,51.8"/>
<polygon fill="#f00" points="73.5,55.5 74,56 74.5,55.5 74,55"/>
<rect fill="#04f" x="28" y="39.5" width="1" height="1"/><rect fill="#04f" x="46" y="37" width="1" height="1"/>
<polygon fill="#ff0" points="74.8,42 76,43.2 77.2,42 76,40.8"/>
<polygon fill="#f00" points="75.3,42 76,42.7 76.7,42 76,41.3"/>
<polygon fill="#04f" points="83.4,43.5 84,44.1 84.6,43.5 84,42.9"/>
<polygon fill="#f00" points="42.1,19.5 42.5,19.9 42.9,19.5 42.5,19.1"/>
<polygon fill="#04f" points="72.5,31.5 77,32 80,30 85,29 89.5,27.5 88.5,24 84,23.5 80,25 76,25 72.5,27"/>
<polygon fill="#405" points="74.5,30 78.5,30.5 80.5,28.5 84,28.7 88.5,27 88,24.5 84,24.5 80,26 76,25.8"/>
<polygon fill="#f00" points="75.4,31.5 76,32.1 76.6,31.5 76,30.9"/>
<polygon fill="#f00" points="76.9,27 77.5,27.6 78.1,27 77.5,26.4"/>
<polygon fill="#f00" points="85.5,25.3 86,25.8 86.5,25.3 86,24.8"/>
<polygon fill="#f00" points="79.5,23 80,23.5 80.5,23 80,22.5"/>
<polygon fill="#405" points="76.2,22 77,22.8 77.8,22 77,21.2"/>
<polygon fill="#9f0" points="75.2,18 76,18.8 76.8,18 76,17.2"/>
<polygon fill="#04f" points="119,44 122,44.5 124,42 122,40.5 119,41.5"/>
<polygon fill="#405" points="121.3,41.5 122.5,42.7 123.7,41.5 122.5,40.3"/>
<polygon fill="#04f" points="129.3,44 130,44.7 130.7,44 130,43.3"/>
<polygon fill="#04f" points="107,36 110,36.5 115,35 114,32.5 110,32 107,33"/>
<polygon fill="#405" points="106.5,34.5 108,36 109.5,34.5 108,33"/>
<polygon fill="#405" points="111.5,33.8 113,35.3 114.5,33.8 113,32.3"/>
<polygon fill="#ff0" points="143.4,-35 143.8,-34.6 144.2,-35 143.8,-35.4"/>
<polygon fill="#04f" points="148.6,-32 149,-31.6 149.4,-32 149,-32.4"/>
<polygon fill="#04f" points="170.9,-44.5 171.3,-44.1 171.7,-44.5 171.3,-44.9"/>
<use href="#coast"/>
<use href="#coast" transform="translate(-360,0)"/>
</g>
</g>
<use href="#axes"/>
<text x="145" y="52" font-size="46" textLength="625" lengthAdjust="spacingAndGlyphs">GW extraction contribution (%)</text>
<text x="163" y="157" font-size="52" textLength="64" lengthAdjust="spacingAndGlyphs">(a)</text>
<g font-size="40">
<text x="108" y="112" text-anchor="end" textLength="86.6" lengthAdjust="spacingAndGlyphs">90° N</text>
<text x="108" y="268" text-anchor="end" textLength="86.6" lengthAdjust="spacingAndGlyphs">60° N</text>
<text x="108" y="424" text-anchor="end" textLength="86.6" lengthAdjust="spacingAndGlyphs">30° N</text>
<text x="108" y="580" text-anchor="end" textLength="33" lengthAdjust="spacingAndGlyphs">0°</text>
<text x="108" y="736" text-anchor="end" textLength="81" lengthAdjust="spacingAndGlyphs">30° S</text>
<text x="108" y="892" text-anchor="end" textLength="81" lengthAdjust="spacingAndGlyphs">60° S</text>
<text x="153.7" y="957" text-anchor="middle" textLength="69" lengthAdjust="spacingAndGlyphs">180°</text>
<text x="309.9" y="957" text-anchor="middle" textLength="113" lengthAdjust="spacingAndGlyphs">150° W</text>
<text x="466.2" y="957" text-anchor="middle" textLength="113" lengthAdjust="spacingAndGlyphs">120° W</text>
<text x="622.5" y="957" text-anchor="middle" textLength="95" lengthAdjust="spacingAndGlyphs">90° W</text>
<text x="778.7" y="957" text-anchor="middle" textLength="95" lengthAdjust="spacingAndGlyphs">60° W</text>
<text x="934.9" y="957" text-anchor="middle" textLength="95" lengthAdjust="spacingAndGlyphs">30° W</text>
<text x="1088.2" y="957" text-anchor="middle" textLength="33" lengthAdjust="spacingAndGlyphs">0°</text>
<text x="1247.4" y="957" text-anchor="middle" textLength="83" lengthAdjust="spacingAndGlyphs">30° E</text>
<text x="1403.7" y="957" text-anchor="middle" textLength="83" lengthAdjust="spacingAndGlyphs">60° E</text>
<text x="1559.9" y="957" text-anchor="middle" textLength="83" lengthAdjust="spacingAndGlyphs">90° E</text>
<text x="1716.2" y="957" text-anchor="middle" textLength="101" lengthAdjust="spacingAndGlyphs">120° E</text>
<text x="1872.4" y="957" text-anchor="middle" textLength="101" lengthAdjust="spacingAndGlyphs">150° E</text>
<text x="2013.7" y="957" text-anchor="middle" textLength="69" lengthAdjust="spacingAndGlyphs">180°</text>
</g>
<use href="#cbar"/>
<g font-size="37" text-anchor="middle">
<text x="507.7" y="1212">-90</text><text x="622.9" y="1212">-70</text><text x="738.1" y="1212">-50</text><text x="853.3" y="1212">-30</text><text x="968.5" y="1212">-10</text><text x="1083.7" y="1212">0</text><text x="1199" y="1212">10</text><text x="1314.2" y="1212">30</text><text x="1429.4" y="1212">50</text><text x="1544.6" y="1212">70</text><text x="1659.8" y="1212">90</text>
</g>

<!-- ===== PANEL B ===== -->
<g transform="translate(0,1277)">
<g clip-path="url(#clipA)">
<g transform="translate(1083.2,567) scale(5.2083,-5.2)">
<use href="#baseNA"/><use href="#baseSA"/><use href="#baseEA"/>
<polygon fill="#0af" points="-108,42 -104,45 -96,44 -93,40 -95,34 -99,30.5 -104,32 -107,37"/>
<polygon fill="#04f" points="-106,40 -103,43 -99,42 -97,38 -99,33 -103,34"/>
<polygon fill="#0af" points="-88,35 -84,35 -82,32 -86,31"/>
<polygon fill="#405" points="-106.2,38.3 -105,39.5 -103.8,38.3 -105,37.1"/>
<polygon fill="#405" points="-85.7,31.5 -84.5,32.7 -83.3,31.5 -84.5,30.3"/>
<polygon fill="#405" points="-88,35 -87,36 -86,35 -87,34"/>
<polygon fill="#405" points="-120.7,45 -119.7,46 -118.7,45 -119.7,44"/>
<polygon fill="#00f" points="-93.8,45 -93,45.8 -92.2,45 -93,44.2"/>
<polygon fill="#ff0" points="-101.6,37.9 -99.2,40.3 -96.8,37.9 -99.2,35.5"/>
<polygon fill="#f00" points="-100.8,37.9 -99.2,39.5 -97.6,37.9 -99.2,36.3"/>
<polygon fill="#ff0" points="-102.5,34.8 -100.3,37 -98.1,34.8 -100.3,32.6"/>
<polygon fill="#f00" points="-101.9,34.8 -100.3,36.4 -98.7,34.8 -100.3,33.2"/>
<polygon fill="#ff0" points="-102.1,41.2 -100.3,43 -98.5,41.2 -100.3,39.4"/>
<polygon fill="#f00" points="-101.5,41.2 -100.3,42.4 -99.1,41.2 -100.3,40"/>
<polygon fill="#f00" points="-96.4,30.6 -95.5,31.5 -94.6,30.6 -95.5,29.7"/>
<polygon fill="#ff0" points="-118.6,41.2 -117.2,42.6 -115.8,41.2 -117.2,39.8"/>
<polygon fill="#f00" points="-118.2,41.2 -117.2,42.2 -116.2,41.2 -117.2,40.2"/>
<polygon fill="#f00" points="-93.7,43.7 -92.9,44.5 -92.1,43.7 -92.9,42.9"/>
<polygon fill="#405" points="-102,38.9 -101,39.9 -100,38.9 -101,37.9"/>
<polygon fill="#04f" points="-76,-13.8 -75,-12.8 -74,-13.8 -75,-14.8"/>
<polygon fill="#0af" points="-50,-17 -46,-17 -45,-21 -49,-22"/>
<polygon fill="#f00" points="-48.6,-19.5 -48,-18.9 -47.4,-19.5 -48,-20.1"/>
<polygon fill="#0af" points="-1,48.5 3,49 5,47 4,44.5 0,44 -1.5,46"/>
<polygon fill="#04f" points="0.8,47 2,48.2 3.2,47 2,45.8"/>
<polygon fill="#04f" points="-8,42.5 -5,43 -3,41 -4,38.5 -7,38.5 -8.5,40"/>
<polygon fill="#405" points="-6.3,42 -5.3,43 -4.3,42 -5.3,41"/>
<polygon fill="#ff0" points="-5.8,39.2 -4,41 -2.2,39.2 -4,37.4"/>
<polygon fill="#f00" points="-5.2,39.2 -4,40.4 -2.8,39.2 -4,38"/>
<polygon fill="#405" points="-8.8,40 -8,40.8 -7.2,40 -8,39.2"/>
<rect fill="#04f" x="-3" y="51" width="1.5" height="1.5"/>
<polygon fill="#0af" points="30,52 36,52.5 36,56 30,55.5"/>
<polygon fill="#405" points="32.1,54.2 33.3,55.4 34.5,54.2 33.3,53"/>
<polygon fill="#405" points="39,54.2 40,55.2 41,54.2 40,53.2"/>
<polygon fill="#405" points="48.8,55 49.8,56 50.8,55 49.8,54"/>
<polygon fill="#00f" points="44,55.5 45,56.5 46,55.5 45,54.5"/>
<polygon fill="#ff0" points="39.8,50.8 41,52 42.2,50.8 41,49.6"/>
<polygon fill="#f00" points="40.3,50.8 41,51.5 41.7,50.8 41,50.1"/>
<rect fill="#0ff" x="62" y="55" width="3" height="2"/><rect fill="#00ff30" x="70" y="55.5" width="2" height="1"/><rect fill="#0ff" x="78" y="55" width="2" height="2"/><rect fill="#0ff" x="85" y="55" width="1" height="1"/><rect fill="#0ff" x="92" y="55" width="1" height="1"/>
<polygon fill="#405" points="78.4,53.5 79,54.1 79.6,53.5 79,52.9"/>
<polygon fill="#f00" points="47.4,36.7 48,37.3 48.6,36.7 48,36.1"/>
<polygon fill="#405" points="41.3,34 42,34.7 42.7,34 42,33.3"/>
<polygon fill="#0af" points="64,36 72,36 72,30 64,31"/>
<polygon fill="#04f" points="65.8,33.8 67,35 68.2,33.8 67,32.6"/>
<polygon fill="#405" points="66.3,33.8 67,34.5 67.7,33.8 67,33.1"/>
<polygon fill="#f00" points="76.4,44 77,44.6 77.6,44 77,43.4"/>
<polygon fill="#0af" points="73,31 77,31.5 80,29.5 85,28.5 89,27 88,24.5 85,22 80,21 76,22 73,25"/>
<polygon fill="#00f" points="75.5,27.5 80,27.5 84,26 89,25.5 88.5,23.5 84,24 80,24.5 76,25"/>
<polygon fill="#ff0" points="73.9,24.6 76.3,27 78.7,24.6 76.3,22.2"/>
<polygon fill="#f00" points="74.7,24.6 76.3,26.2 77.9,24.6 76.3,23"/>
<polygon fill="#ff0" points="88.6,24.3 90,25.7 91.4,24.3 90,22.9"/>
<polygon fill="#f00" points="89.2,24.3 90,25.1 90.8,24.3 90,23.5"/>
<polygon fill="#405" points="76.4,22.6 77.4,23.6 78.4,22.6 77.4,21.6"/>
<polygon fill="#f00" points="70.8,31.5 71.6,32.3 72.4,31.5 71.6,30.7"/>
<polygon fill="#405" points="72.2,30 73,30.8 73.8,30 73,29.2"/>
<polygon fill="#0af" points="118,47 124,47 126,44 124,41 118,41.5"/>
<polygon fill="#04f" points="121,45.5 125,45 125,42 122,42"/>
<polygon fill="#405" points="122.8,43.7 123.6,44.5 124.4,43.7 123.6,42.9"/>
<polygon fill="#ff0" points="121.8,42.5 123,43.7 124.2,42.5 123,41.3"/>
<polygon fill="#f00" points="122.3,42.5 123,43.2 123.7,42.5 123,41.8"/>
<polygon fill="#405" points="120.4,42 121,42.6 121.6,42 121,41.4"/>
<polygon fill="#0af" points="108,37 112,38 117,36 116,32 111,31.5 108,33"/>
<polygon fill="#04f" points="112,36 116,36 116,32.5 112,32"/>
<polygon fill="#ff0" points="112.1,34.1 114.3,36.3 116.5,34.1 114.3,31.9"/>
<polygon fill="#f00" points="112.8,34.1 114.3,35.6 115.8,34.1 114.3,32.6"/>
<polygon fill="#405" points="114.5,37.3 115.3,38.1 116.1,37.3 115.3,36.5"/>
<polygon fill="#0af" points="106,30 110,30 110,27 106,27"/>
<use href="#coast"/>
<use href="#coast" transform="translate(-360,0)"/>
</g>
</g>
<use href="#axes"/>
<text x="145" y="52" font-size="46" textLength="625" lengthAdjust="spacingAndGlyphs">GW extraction contribution (%)</text>
<text x="163" y="157" font-size="52" textLength="64" lengthAdjust="spacingAndGlyphs">(b)</text>
<g font-size="40">
<text x="108" y="112" text-anchor="end" textLength="86.6" lengthAdjust="spacingAndGlyphs">90° N</text>
<text x="108" y="268" text-anchor="end" textLength="86.6" lengthAdjust="spacingAndGlyphs">60° N</text>
<text x="108" y="424" text-anchor="end" textLength="86.6" lengthAdjust="spacingAndGlyphs">30° N</text>
<text x="108" y="580" text-anchor="end" textLength="33" lengthAdjust="spacingAndGlyphs">0°</text>
<text x="108" y="736" text-anchor="end" textLength="81" lengthAdjust="spacingAndGlyphs">30° S</text>
<text x="108" y="892" text-anchor="end" textLength="81" lengthAdjust="spacingAndGlyphs">60° S</text>
<text x="153.7" y="957" text-anchor="middle" textLength="69" lengthAdjust="spacingAndGlyphs">180°</text>
<text x="309.9" y="957" text-anchor="middle" textLength="113" lengthAdjust="spacingAndGlyphs">150° W</text>
<text x="466.2" y="957" text-anchor="middle" textLength="113" lengthAdjust="spacingAndGlyphs">120° W</text>
<text x="622.5" y="957" text-anchor="middle" textLength="95" lengthAdjust="spacingAndGlyphs">90° W</text>
<text x="778.7" y="957" text-anchor="middle" textLength="95" lengthAdjust="spacingAndGlyphs">60° W</text>
<text x="934.9" y="957" text-anchor="middle" textLength="95" lengthAdjust="spacingAndGlyphs">30° W</text>
<text x="1088.2" y="957" text-anchor="middle" textLength="33" lengthAdjust="spacingAndGlyphs">0°</text>
<text x="1247.4" y="957" text-anchor="middle" textLength="83" lengthAdjust="spacingAndGlyphs">30° E</text>
<text x="1403.7" y="957" text-anchor="middle" textLength="83" lengthAdjust="spacingAndGlyphs">60° E</text>
<text x="1559.9" y="957" text-anchor="middle" textLength="83" lengthAdjust="spacingAndGlyphs">90° E</text>
<text x="1716.2" y="957" text-anchor="middle" textLength="101" lengthAdjust="spacingAndGlyphs">120° E</text>
<text x="1872.4" y="957" text-anchor="middle" textLength="101" lengthAdjust="spacingAndGlyphs">150° E</text>
<text x="2013.7" y="957" text-anchor="middle" textLength="69" lengthAdjust="spacingAndGlyphs">180°</text>
</g>
<use href="#cbar"/>
<g font-size="37" text-anchor="middle">
<text x="507.7" y="1212">-90</text><text x="622.9" y="1212">-70</text><text x="738.1" y="1212">-50</text><text x="853.3" y="1212">-30</text><text x="968.5" y="1212">-10</text><text x="1083.7" y="1212">0</text><text x="1199" y="1212">10</text><text x="1314.2" y="1212">30</text><text x="1429.4" y="1212">50</text><text x="1544.6" y="1212">70</text><text x="1659.8" y="1212">90</text>
</g>
</g>
</svg>
</body></html>
